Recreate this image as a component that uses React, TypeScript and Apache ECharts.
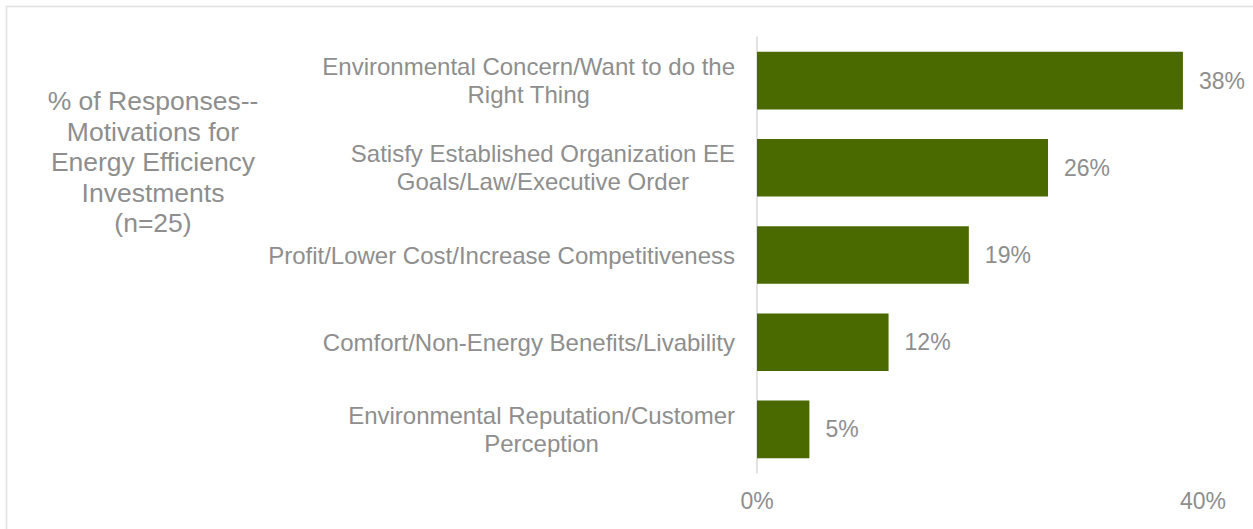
import React, { useEffect, useRef } from "react";
import * as echarts from "echarts";

const categories = [
  "Environmental Concern/Want to do the\nRight Thing",
  "Satisfy Established Organization EE\nGoals/Law/Executive Order",
  "Profit/Lower Cost/Increase Competitiveness",
  "Comfort/Non-Energy Benefits/Livability",
  "Environmental Reputation/Customer\nPerception",
];
const values = [38.2, 26.1, 19.0, 11.8, 4.7];
const titleText = "% of Responses--\nMotivations for\nEnergy Efficiency\nInvestments\n(n=25)";
const axisMin = 0;
const axisMax = 40;
const axisInterval = 40;

const GRAY = "#8e8e8e";
const FONT = "Liberation Sans, Arial, sans-serif";

export default function App() {
  const ref = useRef<HTMLDivElement>(null);
  useEffect(() => {
    const chart = echarts.init(ref.current!, null, { renderer: "svg" });
    chart.setOption({
      animation: false,
      backgroundColor: "#ffffff",
      textStyle: { fontFamily: FONT },
      graphic: [
        {
          type: "rect",
          shape: { x: 6.5, y: 6.5, width: 1400, height: 700 },
          style: { fill: "none", stroke: "#e0e0e0", lineWidth: 1.5 },
          silent: true,
          z: -10,
        },
      ],
      title: {
        text: titleText,
        left: 153,
        top: 86,
        textAlign: "center",
        padding: 0,
        textStyle: {
          fontSize: 26.5,
          fontWeight: "normal",
          color: GRAY,
          lineHeight: 30.5,
          align: "center",
          fontFamily: FONT,
        },
      },
      grid: { left: 757, top: 37, width: 446, height: 436, containLabel: false },
      xAxis: {
        type: "value",
        min: axisMin,
        max: axisMax,
        interval: axisInterval,
        axisLine: { show: false },
        axisTick: { show: false },
        splitLine: { show: false },
        axisLabel: {
          formatter: (v: number) => `${v}%`,
          fontSize: 23,
          color: GRAY,
          margin: 16,
          fontFamily: FONT,
        },
      },
      yAxis: {
        type: "category",
        inverse: true,
        data: categories,
        axisLine: { show: true, lineStyle: { color: "#d9d9d9", width: 1.5 } },
        axisTick: { show: false },
        axisLabel: {
          margin: 22,
          align: "right",
          formatter: (v: string) =>
            v
              .split("\n")
              .map((l) => `{c|${l}}`)
              .join("\n"),
          rich: {
            c: {
              align: "center",
              fontSize: 24,
              lineHeight: 28,
              color: GRAY,
              fontFamily: FONT,
            },
          },
        },
      },
      series: [
        {
          type: "bar",
          data: values,
          barCategoryGap: "34%",
          itemStyle: { color: "#4a6a00" },
          label: {
            show: true,
            position: "right",
            distance: 16,
            formatter: (p: any) => `${Math.round(p.value)}%`,
            fontSize: 23,
            color: GRAY,
            fontFamily: FONT,
          },
        },
      ],
    });
    return () => chart.dispose();
  }, []);
  return (
    <div
      ref={ref}
      style={{ position: "fixed", left: 0, top: 0, width: 1253, height: 529 }}
    />
  );
}
